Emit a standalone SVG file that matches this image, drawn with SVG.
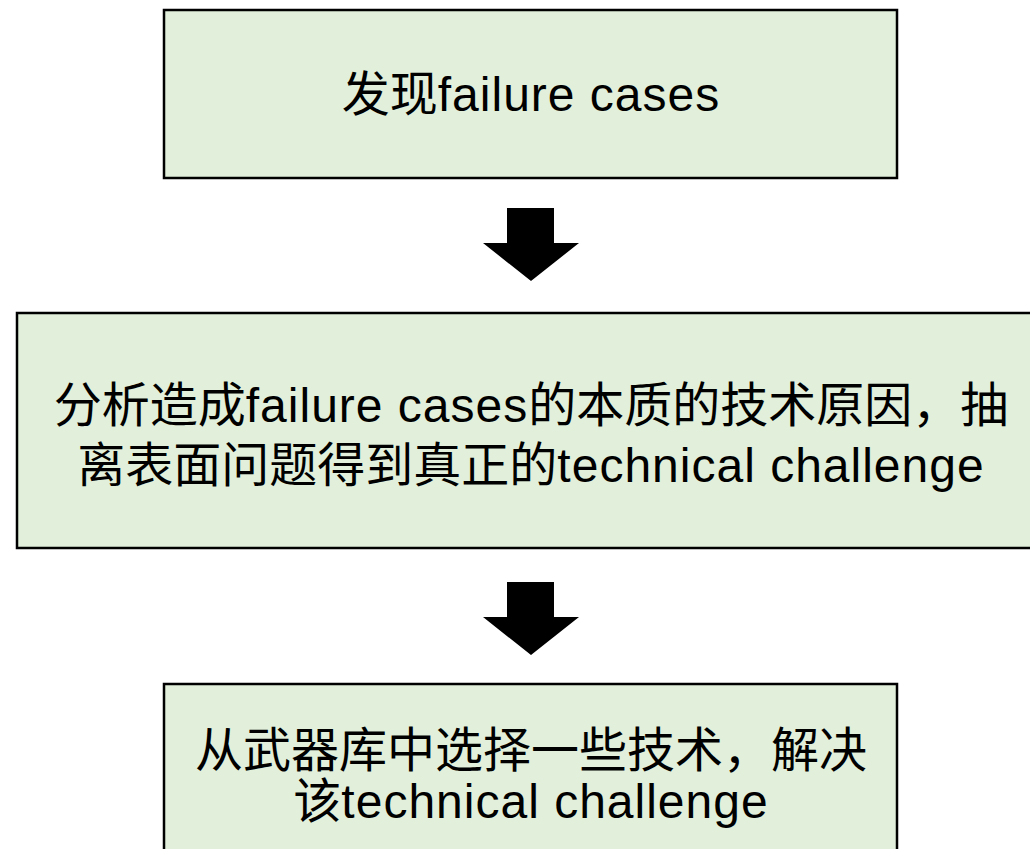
<svg xmlns="http://www.w3.org/2000/svg" width="1030" height="849" viewBox="0 0 1030 849">
<style>
.box{fill:#E2EFDA;stroke:#000;stroke-width:2.5}
.t{font-family:"Liberation Sans","Noto Sans CJK SC",sans-serif;font-size:48px;fill:#000;text-anchor:middle;dominant-baseline:central}
.l{letter-spacing:1px}
.arrow{fill:#000}
</style>
<rect width="1030" height="849" fill="#fff"/>
<g id="node1">
<rect class="box" x="164" y="10" width="733" height="168"/>
<text class="t" x="531" y="94">发现<tspan class="l">failure cases</tspan></text>
</g>
<g id="node2">
<rect class="box" x="17" y="313" width="1040" height="235"/>
<text class="t" x="531" y="405">分析造成<tspan class="l">failure cases</tspan>的本质的技术原因，抽</text>
<text class="t" x="531" y="465">离表面问题得到真正的<tspan class="l">technical challenge</tspan></text>
</g>
<g id="node3">
<rect class="box" x="164" y="684" width="733" height="180"/>
<text class="t" x="531" y="750">从武器库中选择一些技术，解决</text>
<text class="t" x="531" y="801">该<tspan class="l">technical challenge</tspan></text>
</g>
<g id="connectors">
<polygon class="arrow" points="507,208 554,208 554,243 579,243 531,281 483,243 507,243"/>
<polygon class="arrow" points="507,582 554,582 554,617 579,617 531,655 483,617 507,617"/>
</g>
</svg>
